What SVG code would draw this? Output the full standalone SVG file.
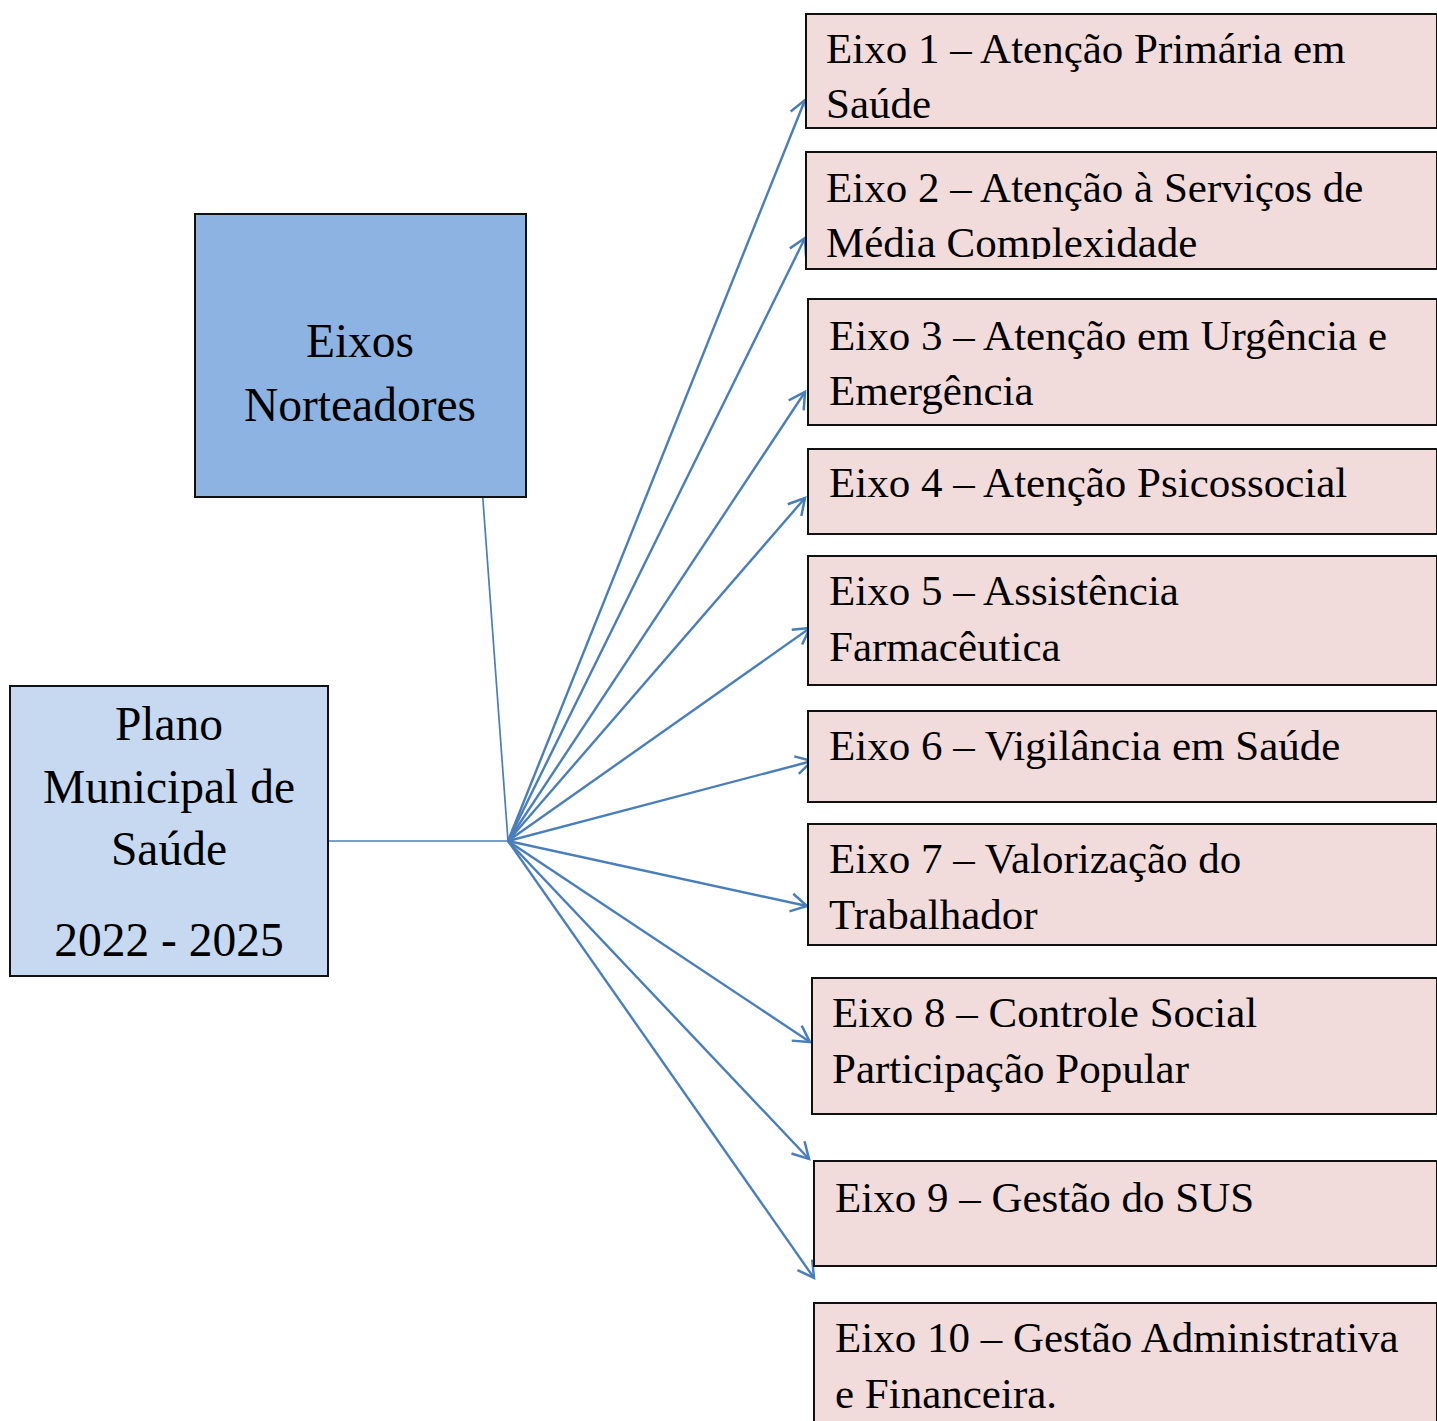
<svg xmlns="http://www.w3.org/2000/svg" width="1437" height="1421" viewBox="0 0 1437 1421">
<style>
.t{font-family:"Liberation Serif","Times New Roman",serif;fill:#000}
.ax{font-size:43px}
.box{stroke:#111;stroke-width:2}
.eixo{fill:#f2dcdb}
.con{stroke:#4a7ebb;fill:none}
.arr{stroke-width:2.4;marker-end:url(#ah)}
</style>
<defs>
<marker id="ah" markerUnits="userSpaceOnUse" markerWidth="40" markerHeight="40" refX="0" refY="0" viewBox="-20 -20 40 40" orient="auto" overflow="visible">
<path d="M-16,-9 L0,0 L-16,9" fill="none" stroke="#4a7ebb" stroke-width="2.5"/>
</marker>
<clipPath id="c2"><rect x="806" y="152" width="631" height="107"/></clipPath>
</defs>
<g id="connectors">
<line class="con" x1="328" y1="841" x2="508" y2="841" stroke-width="1.7"/>
<line class="con" x1="482" y1="487" x2="508" y2="841" stroke-width="1.7"/>
<line class="con arr" x1="508" y1="841" x2="805" y2="100"/>
<line class="con arr" x1="508" y1="841" x2="805" y2="238"/>
<line class="con arr" x1="508" y1="841" x2="805" y2="392"/>
<line class="con arr" x1="508" y1="841" x2="805" y2="498"/>
<line class="con arr" x1="508" y1="841" x2="810" y2="628"/>
<line class="con arr" x1="508" y1="841" x2="812" y2="761"/>
<line class="con arr" x1="508" y1="841" x2="807" y2="906"/>
<line class="con arr" x1="508" y1="841" x2="810" y2="1042"/>
<line class="con arr" x1="508" y1="841" x2="809" y2="1159"/>
<line class="con arr" x1="508" y1="841" x2="814" y2="1278"/>
</g>
<g id="eixos-norteadores">
<rect class="box" x="195" y="214" width="331" height="283" fill="#8db3e2"/>
<text class="t" x="360" y="357" font-size="47.5" text-anchor="middle">Eixos</text>
<text class="t" x="360" y="421" font-size="47.5" text-anchor="middle">Norteadores</text>
</g>
<g id="plano">
<rect class="box" x="10" y="686" width="318" height="290" fill="#c6d9f1"/>
<text class="t" x="169" y="740" font-size="47.5" text-anchor="middle">Plano</text>
<text class="t" x="169" y="803" font-size="47.5" text-anchor="middle">Municipal de</text>
<text class="t" x="169" y="865" font-size="47.5" text-anchor="middle">Saúde</text>
<text class="t" x="169" y="956" font-size="47.5" text-anchor="middle">2022 - 2025</text>
</g>
<g id="eixo1">
<rect class="box eixo" x="806" y="14" width="631" height="114"/>
<text class="t ax" x="826" y="63">Eixo 1 – Atenção Primária em</text>
<text class="t ax" x="826" y="118">Saúde</text>
</g>
<g id="eixo2">
<rect class="box eixo" x="806" y="152" width="631" height="117"/>
<g clip-path="url(#c2)">
<text class="t ax" x="826" y="202">Eixo 2 – Atenção à Serviços de</text>
<text class="t ax" x="826" y="257">Média Complexidade</text>
</g>
</g>
<g id="eixo3">
<rect class="box eixo" x="808" y="299" width="629" height="126"/>
<text class="t ax" x="829" y="350">Eixo 3 – Atenção em Urgência e</text>
<text class="t ax" x="829" y="405">Emergência</text>
</g>
<g id="eixo4">
<rect class="box eixo" x="808" y="449" width="629" height="85"/>
<text class="t ax" x="829" y="497">Eixo 4 – Atenção Psicossocial</text>
</g>
<g id="eixo5">
<rect class="box eixo" x="808" y="556" width="629" height="129"/>
<text class="t ax" x="829" y="605">Eixo 5 – Assistência</text>
<text class="t ax" x="829" y="661">Farmacêutica</text>
</g>
<g id="eixo6">
<rect class="box eixo" x="808" y="711" width="629" height="91"/>
<text class="t ax" x="829" y="760">Eixo 6 – Vigilância em Saúde</text>
</g>
<g id="eixo7">
<rect class="box eixo" x="808" y="824" width="629" height="121"/>
<text class="t ax" x="829" y="873">Eixo 7 – Valorização do</text>
<text class="t ax" x="829" y="929">Trabalhador</text>
</g>
<g id="eixo8">
<rect class="box eixo" x="812" y="978" width="625" height="136"/>
<text class="t ax" x="832" y="1027">Eixo 8 – Controle Social</text>
<text class="t ax" x="832" y="1083">Participação Popular</text>
</g>
<g id="eixo9">
<rect class="box eixo" x="814" y="1161" width="623" height="105"/>
<text class="t ax" x="835" y="1212">Eixo 9 – Gestão do SUS</text>
</g>
<g id="eixo10">
<rect class="box eixo" x="814" y="1303" width="623" height="130"/>
<text class="t ax" x="835" y="1352">Eixo 10 – Gestão Administrativa</text>
<text class="t ax" x="835" y="1408">e Financeira.</text>
</g>
</svg>
